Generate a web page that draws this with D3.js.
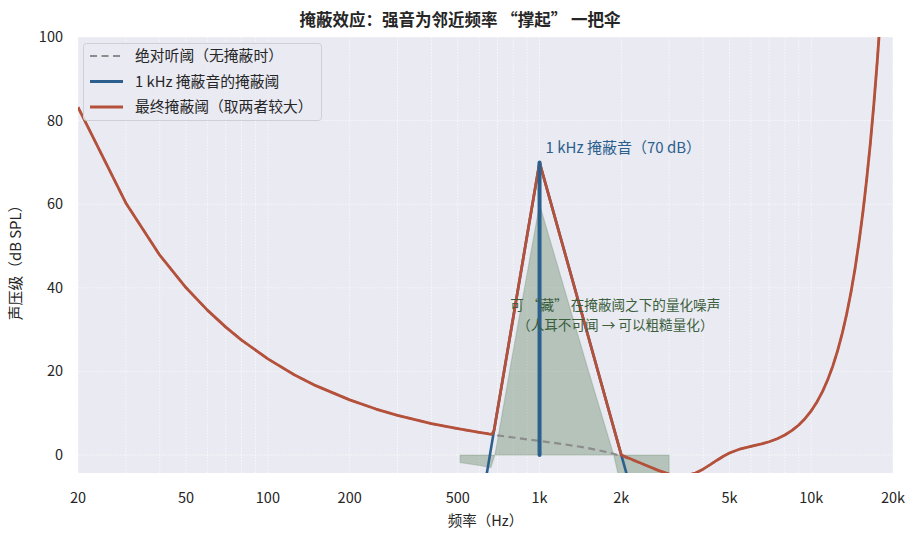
<!DOCTYPE html>
<html lang="zh-CN"><head><meta charset="utf-8">
<script src="https://cdn.jsdelivr.net/npm/d3@7"></script>
<style>
body{margin:0;background:#fff;}
text{font-family:"Noto Sans CJK SC","Noto Sans",sans-serif;}
</style></head>
<body><svg id="c" width="920" height="541"></svg>
<script>
// ---- data ----
const freqs = [20,30,40,50,60,70,80,100,125,150,200,250,300,400,500,600,650,668,680,700,800,900,1000,1200,1500,1800,2000,2500,2750,3000,3300,3500,3750,4000,4250,4500,4750,5000,5500,6000,6500,7000,7500,8000,8500,9000,9500,10000,10500,11000,11500,12000,12500,13000,13500,14000,14500,15000,15500,16000,16500,17000,17500,18000,18500,19000,20000];
const absThreshold = [83.2,60.3,47.8,40.0,34.6,30.6,27.5,23.0,19.2,16.6,13.2,11.0,9.5,7.5,6.3,5.4,5.05,4.95,4.85,4.7,4.2,3.75,3.37,2.68,1.7,0.6,-0.25,-2.64,-3.74,-4.57,-4.98,-4.86,-4.3,-3.38,-2.31,-1.24,-0.29,0.48,1.49,2.08,2.58,3.17,3.89,4.78,5.88,7.19,8.75,10.58,12.71,15.18,18.01,21.24,24.9,29.03,33.67,38.86,44.63,51.05,58.13,65.94,74.51,83.9,94.16,105.3,117.5,130.7,160.3];
const maskFreqs = [600,650,668,680,700,800,900,1000,1200,1500,1800,2000,2500];
const maskThreshold = [-15,-1.7,2.9,5.9,10.7,32.9,52.5,70,51.6,29.1,10.6,0,-22.5];
const noiseFreqs = [510,600,662,685,800,1000,1500,1875,2000,2500,3000];
const noiseLevel = [-1.8,-2.5,-3.0,0,25,60,21,0,-8,-10.6,-12.6];
const maskerFreq = 1000, maskerLevel = 70;
const xTicks = [20,50,100,200,500,1000,2000,5000,10000,20000];
const xTickLabels = ["20","50","100","200","500","1k","2k","5k","10k","20k"];
const xMinor = [30,40,60,70,80,90,300,400,600,700,800,900,3000,4000,6000,7000,8000,9000];
const yTicks = [0,20,40,60,80,100];
const noteLines = ["可 “藏” 在掩蔽阈之下的量化噪声","（人耳不可闻 → 可以粗糙量化）"];

// ---- layout ----
const L=78,R=893,T=37,B=473;
const x=d3.scaleLog().domain([20,20000]).range([L,R]);
const y=d3.scaleLinear().domain([-4.3,100]).range([B,T]);
const svg=d3.select("#c");
const red="#b5503a", blue="#2b5f8e", gray="#8c8c8c", green="#3d6b3d";

svg.append("rect").attr("x",L).attr("y",T).attr("width",R-L).attr("height",B-T).attr("fill","#eaeaf2");
svg.append("clipPath").attr("id","clip").append("rect").attr("x",L).attr("y",T).attr("width",R-L).attr("height",B-T);

// grid
const g=svg.append("g").attr("clip-path","url(#clip)");
g.selectAll(".vg").data(xTicks.concat(xMinor)).enter().append("line")
 .attr("x1",d=>x(d)).attr("x2",d=>x(d)).attr("y1",T).attr("y2",B)
 .attr("stroke","#fff").attr("stroke-width",0.8).attr("stroke-dasharray","1.5,1.5").attr("opacity",0.9);
g.selectAll(".hg").data(yTicks).enter().append("line")
 .attr("x1",L).attr("x2",R).attr("y1",d=>y(d)).attr("y2",d=>y(d))
 .attr("stroke","#fff").attr("stroke-width",0.8).attr("stroke-dasharray","1.5,1.5").attr("opacity",0.9);

// noise fill
const noise=noiseFreqs.map((f,i)=>({f,v:noiseLevel[i]}));
g.append("path").datum(noise)
 .attr("d",d3.area().x(d=>x(d.f)).y0(y(0)).y1(d=>y(d.v)))
 .attr("fill",green).attr("fill-opacity",0.3)
 .attr("stroke",green).attr("stroke-opacity",0.2).attr("stroke-width",1.2);

// absolute threshold (dashed)
const absData=freqs.map((f,i)=>({f,v:absThreshold[i]}));
g.append("path").datum(absData)
 .attr("d",d3.line().x(d=>x(d.f)).y(d=>y(d.v)))
 .attr("fill","none").attr("stroke",gray).attr("stroke-width",2.2).attr("stroke-dasharray","7,4.5");

// masking threshold
const maskData=maskFreqs.map((f,i)=>({f,v:maskThreshold[i]}));
g.append("path").datum(maskData)
 .attr("d",d3.line().x(d=>x(d.f)).y(d=>y(d.v)))
 .attr("fill","none").attr("stroke",blue).attr("stroke-width",2.6);

// final = max of the two
const finalData=freqs.map((f,i)=>{
  const k=maskFreqs.indexOf(f);
  const m=k>=0?maskThreshold[k]:-Infinity;
  return {f,v:Math.max(absThreshold[i],m)};
});
g.append("path").datum(finalData)
 .attr("d",d3.line().x(d=>x(d.f)).y(d=>y(d.v)))
 .attr("fill","none").attr("stroke",red).attr("stroke-width",2.8).attr("stroke-linejoin","round");

// masker stem
g.append("line").attr("x1",x(maskerFreq)).attr("x2",x(maskerFreq)).attr("y1",y(0)).attr("y2",y(maskerLevel))
 .attr("stroke",blue).attr("stroke-width",4).attr("stroke-linecap","round");

// annotations
svg.append("text").attr("x",x(maskerFreq)+6).attr("y",y(maskerLevel)-9)
 .attr("fill",blue).attr("font-size",15).text("1 kHz 掩蔽音（70 dB）");
const ax=x(1900);
const note=svg.append("text").attr("x",ax).attr("y",y(34.8)).attr("text-anchor","middle")
 .attr("fill","#3b5e3b").attr("font-size",13.6);
noteLines.forEach((t,i)=>note.append("tspan").attr("x",ax).attr("dy",i===0?0:20).text(t));

// axes labels
svg.selectAll(".xt").data(xTicks).enter().append("text")
 .attr("x",d=>x(d)).attr("y",503).attr("text-anchor","middle").attr("font-size",14.5).attr("fill","#262626")
 .text((d,i)=>xTickLabels[i]);
svg.selectAll(".yt").data(yTicks).enter().append("text")
 .attr("x",63).attr("y",d=>y(d)+5).attr("text-anchor","end").attr("font-size",14.5).attr("fill","#262626")
 .text(d=>d);
svg.append("text").attr("x",(L+R)/2).attr("y",526).attr("text-anchor","middle").attr("font-size",14.5).attr("fill","#262626").text("频率（Hz）");
svg.append("text").attr("transform",`translate(21,${(T+B)/2+4}) rotate(-90)`).attr("text-anchor","middle").attr("font-size",14.8).attr("fill","#262626").text("声压级（dB SPL）");
svg.append("text").attr("x",460).attr("y",26).attr("text-anchor","middle").attr("font-size",16.5).attr("font-weight","bold").attr("fill","#262626")
 .text("掩蔽效应：强音为邻近频率 “撑起” 一把伞");

// legend
const lg=svg.append("g");
lg.append("rect").attr("x",83.5).attr("y",43.5).attr("width",238).attr("height",77).attr("rx",3)
 .attr("fill","#eaeaf2").attr("fill-opacity",0.8).attr("stroke","#cfcfd6");
const items=[
 {c:gray,dash:"7,4.5",t:"绝对听阈（无掩蔽时）"},
 {c:blue,dash:null,t:"1 kHz 掩蔽音的掩蔽阈"},
 {c:red,dash:null,t:"最终掩蔽阈（取两者较大）"}];
items.forEach((it,i)=>{
  const yy=56+i*25.5;
  const ln=lg.append("line").attr("x1",90).attr("x2",123).attr("y1",yy).attr("y2",yy)
   .attr("stroke",it.c).attr("stroke-width",it.dash?2.2:2.8);
  if(it.dash) ln.attr("stroke-dasharray",it.dash);
  lg.append("text").attr("x",135).attr("y",yy+5).attr("font-size",14.8).attr("fill","#262626").text(it.t);
});
</script></body></html>
